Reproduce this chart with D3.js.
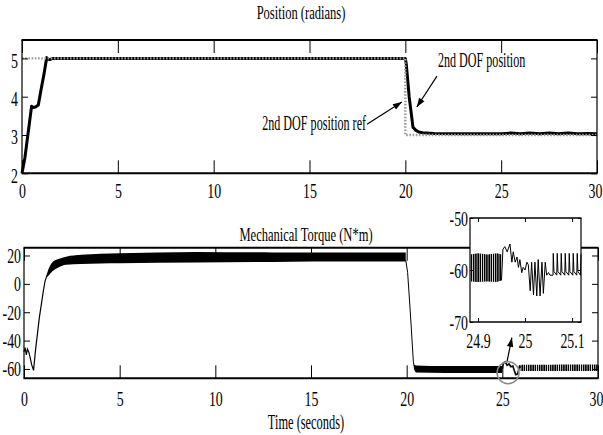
<!DOCTYPE html>
<html><head><meta charset="utf-8">
<script src="https://cdn.jsdelivr.net/npm/d3@7"></script>
<style>
body{margin:0;background:#fff}
svg{display:block}
text{font-family:"Liberation Serif","Tinos","Times New Roman","DejaVu Serif",serif;fill:#000}
</style>
</head><body>
<svg id="c" width="603" height="435"></svg>
<script>
// ---------- data ----------
const xTicks = [0, 5, 10, 15, 20, 25, 30];
const posTicks = [2, 3, 4, 5];
const torqTicks = [-60, -40, -20, 0, 20];
const insetXTicks = [24.9, 25, 25.1];
const insetYTicks = [-70, -60, -50];

// Position reference (rad)
const refT = [0, 20, 20, 30];
const refV = [5, 5, 3, 3];
// 2nd DOF position (rad)
const posT = [0, 0.15, 0.5, 0.6, 0.7, 0.85, 1.0, 1.15, 1.29, 1.35, 1.45, 1.6, 2, 20.0, 20.05, 20.2, 20.4, 20.55, 20.7, 20.9, 21.5, 23, 25, 25.5, 26, 26.5, 27, 27.5, 28, 28.5, 29, 29.5, 30];
const posV = [2.0, 2.4, 3.75, 3.72, 3.73, 3.78, 4.2, 4.6, 5.02, 4.98, 4.97, 5.0, 5.0, 5.0, 4.85, 4.0, 3.2, 3.12, 3.08, 3.06, 3.04, 3.03, 3.03, 3.05, 3.03, 3.05, 3.03, 3.05, 3.03, 3.05, 3.03, 3.04, 3.03];

// Mechanical torque (N*m): start-up transient
const tqT = [0, 0.06, 0.12, 0.18, 0.25, 0.32, 0.4, 0.5, 0.6, 0.8, 1.0, 1.1, 1.2];
const tqV = [-48, -45, -50, -46, -48, -52, -57, -61, -47, -24, -6, 2, 6];
// steady band (envelope) 1.2 .. 20 s
const band1T = [1.15, 1.3, 1.5, 1.8, 2.2, 3, 4, 5, 9, 13, 17, 19.95];
const band1Hi = [5, 11, 15.5, 17.5, 19.2, 20.5, 21.2, 21.6, 22.5, 22.2, 22.2, 22.2];
const band1Lo = [4, 6, 9, 11.5, 13.4, 14, 14.4, 14.6, 15, 15.5, 15.7, 15.7];
// drop at 20 s
const dropT = [19.95, 20.05, 20.2, 20.35, 20.42];
const dropV = [17, 8, -22, -55, -60];
// band 20.4 .. 25 s
const band2T = [20.38, 20.5, 22, 24, 25.0];
const band2Hi = [-57, -57.5, -58, -58, -58];
const band2Lo = [-60, -62.5, -62.8, -62.8, -62.8];
// event near 25 s
const evT = [25.0, 25.05, 25.15, 25.25, 25.35, 25.45, 25.55, 25.62, 25.7, 25.8, 25.9, 26.0];
const evV = [-60, -56, -55, -57.5, -56.5, -58.5, -58, -61, -64, -63.5, -58, -59];
// band 26 .. 30 s
const band3T = [25.95, 27, 28, 29, 30];
const band3Hi = [-57, -57, -56.8, -56.8, -56.8];
const band3Lo = [-61.5, -61.5, -61.5, -61.5, -61.5];

// inset (zoom 24.88 .. 25.12 s)
const inBandT = [24.883, 24.9, 24.92, 24.94, 24.95];
const inBandHi = [-57, -56.8, -57, -56.8, -57];
const inBandLo = [-62.2, -62.3, -62.2, -62.3, -62];
const inT = [24.950, 24.953, 24.957, 24.962, 24.968, 24.972, 24.975, 24.979, 24.983, 24.986, 24.989, 24.993, 24.996, 25.000, 25.004, 25.007, 25.011, 25.014, 25.018, 25.021, 25.025, 25.028, 25.032, 25.036, 25.039, 25.043, 25.046, 25.050, 25.053, 25.0595, 25.060, 25.0615, 25.0675, 25.0685, 25.070, 25.076, 25.077, 25.0785, 25.0845, 25.0855, 25.087, 25.093, 25.094, 25.0955, 25.1015, 25.1025, 25.104, 25.110, 25.111, 25.1125, 25.118, 25.119];
const inV = [-62, -56, -55.5, -56.5, -55, -58.5, -56.5, -58.5, -57.5, -59.5, -58, -60.5, -59.5, -60, -58.5, -59, -64, -58.5, -64.8, -58.5, -65, -58, -65, -58.5, -64.5, -58.5, -61, -60.5, -61, -61, -56.8, -60.3, -61, -56.8, -60.3, -61, -56.8, -60.3, -61, -56.8, -60.3, -61, -56.8, -60.3, -61, -56.8, -60.3, -61, -56.8, -60.3, -61, -57];

// ---------- drawing ----------
const svg = d3.select("#c");
const defs = svg.append("defs");
const pat = defs.append("pattern").attr("id", "vstripe").attr("patternUnits", "userSpaceOnUse").attr("width", 2.2).attr("height", 10);
pat.append("rect").attr("width", 2.2).attr("height", 10).attr("fill", "#fff");
pat.append("rect").attr("width", 1.5).attr("height", 10).attr("fill", "#000");

function txt(g, x, y, s, fs, sx, anchor) {
  return g.append("text")
    .attr("transform", `translate(${x},${y}) scale(${sx},1)`)
    .attr("font-size", fs).attr("text-anchor", anchor || "middle").text(s);
}
function frame(g, x, y, hw, vw) {
  const [x0, x1] = x.range(), [y0, y1] = y.range(); // y0 bottom, y1 top
  g.append("line").attr("x1", x0 - 0.5).attr("x2", x1 + 0.5).attr("y1", y1).attr("y2", y1).attr("stroke", "#000").attr("stroke-width", hw);
  g.append("line").attr("x1", x0 - 0.5).attr("x2", x1 + 0.5).attr("y1", y0).attr("y2", y0).attr("stroke", "#000").attr("stroke-width", hw);
  g.append("line").attr("x1", x0).attr("x2", x0).attr("y1", y1).attr("y2", y0).attr("stroke", "#000").attr("stroke-width", vw);
  g.append("line").attr("x1", x1).attr("x2", x1).attr("y1", y1).attr("y2", y0).attr("stroke", "#000").attr("stroke-width", vw);
}
function axes(g, x, y, xt, yt, o) {
  const [x0, x1] = x.range(), [y0, y1] = y.range();
  const fmt = d => String(d);
  const style = sel => { sel.select(".domain").remove(); sel.attr("font-family", null).attr("font-size", o.fs); sel.selectAll("line").attr("stroke", "#000").attr("stroke-width", 1); };
  const b = g.append("g").attr("transform", `translate(0,${y0})`).call(d3.axisBottom(x).tickValues(xt).tickSize(-o.xt).tickFormat(fmt)).call(style);
  b.selectAll("text").attr("y", null).attr("dy", null)
    .attr("transform", (d, i) => `translate(${o.edge && x(d) > 590 ? -2 : 0},${o.xOff}) scale(${o.sx},1)`);
  g.append("g").attr("transform", `translate(0,${y1})`).call(d3.axisTop(x).tickValues(xt).tickSize(-o.xt).tickFormat("")).call(style);
  const l = g.append("g").attr("transform", `translate(${x0},0)`).call(d3.axisLeft(y).tickValues(yt).tickSize(-o.yt).tickFormat(fmt)).call(style);
  l.selectAll("text").attr("x", null).attr("dy", null).attr("transform", `translate(${o.yX},${o.yOff}) scale(${o.sx},1)`);
  g.append("g").attr("transform", `translate(${x1},0)`).call(d3.axisRight(y).tickValues(yt).tickSize(-o.yt).tickFormat("")).call(style);
}
function arrow(g, x1, y1, x2, y2) {
  g.append("line").attr("x1", x1).attr("y1", y1).attr("x2", x2).attr("y2", y2).attr("stroke", "#000").attr("stroke-width", 1.2);
  const a = Math.atan2(y2 - y1, x2 - x1), L = 9, W = 3.2;
  const p = [[x2, y2], [x2 - L * Math.cos(a) + W * Math.sin(a), y2 - L * Math.sin(a) - W * Math.cos(a)], [x2 - L * Math.cos(a) - W * Math.sin(a), y2 - L * Math.sin(a) + W * Math.cos(a)]];
  g.append("path").attr("d", "M" + p.join("L") + "Z").attr("fill", "#000");
}
const zip = (a, b) => a.map((d, i) => [d, b[i]]);

// ---------- top: position ----------
const xTop = d3.scaleLinear().domain([0, 30]).range([22, 597]);
const yTop = d3.scaleLinear().domain([2, 5.48]).range([173.3, 40]);
const gT = svg.append("g");
const lineT = d3.line().x(d => xTop(d[0])).y(d => yTop(d[1]));
gT.append("path").attr("d", lineT(zip(posT, posV))).attr("fill", "none").attr("stroke", "#000").attr("stroke-width", 3).attr("stroke-linejoin", "round");
gT.append("path").attr("d", lineT(zip(refT, refV))).attr("fill", "none").attr("stroke", "#9a9a9a").attr("stroke-width", 2.4).attr("stroke-dasharray", "1.6,1.6");
frame(gT, xTop, yTop, 2, 1.2);
axes(gT, xTop, yTop, xTicks, posTicks, {fs: 21, sx: 0.66, xt: 13, yt: 6, xOff: 25, yX: -4, yOff: 9, edge: true});
txt(gT, 301, 19, "Position (radians)", 19, 0.66);
txt(gT, xTop(21.7), yTop(4.77), "2nd DOF position", 22, 0.55, "start");
txt(gT, xTop(17.95), yTop(3.13), "2nd DOF position ref", 22, 0.55, "end");
arrow(gT, xTop(21.65), yTop(4.535), xTop(20.6), yTop(3.73));
arrow(gT, xTop(18.0), yTop(3.28), xTop(19.82), yTop(3.86));

// ---------- bottom: torque ----------
const xBot = d3.scaleLinear().domain([0, 30]).range([24, 598]);
const yBot = d3.scaleLinear().domain([-66.6, 25.5]).range([378.3, 247.7]);
const gB = svg.append("g");
const lineB = d3.line().x(d => xBot(d[0])).y(d => yBot(d[1]));
const areaB = (t, hi, lo) => d3.area().curve(d3.curveMonotoneX).x(d => xBot(d)).y0((d, i) => yBot(lo[i])).y1((d, i) => yBot(hi[i]))(t);
gB.append("path").attr("d", lineB(zip(tqT, tqV))).attr("fill", "none").attr("stroke", "#000").attr("stroke-width", 1.2);
gB.append("path").attr("d", areaB(band1T, band1Hi, band1Lo)).attr("fill", "#000");
gB.append("path").attr("d", lineB(zip(dropT, dropV))).attr("fill", "none").attr("stroke", "#000").attr("stroke-width", 1);
gB.append("path").attr("d", areaB(band2T, band2Hi, band2Lo)).attr("fill", "#000");
gB.append("path").attr("d", lineB(zip(evT, evV))).attr("fill", "none").attr("stroke", "#000").attr("stroke-width", 1.6);
gB.append("path").attr("d", areaB(band3T, band3Hi, band3Lo)).attr("fill", "url(#vstripe)");
frame(gB, xBot, yBot, 2, 1.2);
axes(gB, xBot, yBot, xTicks, torqTicks, {fs: 21, sx: 0.66, xt: 13, yt: 6, xOff: 28, yX: -3, yOff: 7, edge: true});
txt(gB, 306, 241, "Mechanical Torque (N*m)", 19, 0.66);
txt(gB, 306, 429, "Time (seconds)", 20, 0.62);
// zoom circle + arrow
gB.append("circle").attr("cx", xBot(25.3)).attr("cy", yBot(-62.7)).attr("r", 11).attr("fill", "none").attr("stroke", "#8a8a8a").attr("stroke-width", 1.5);
arrow(gB, xBot(25.25), yBot(-54.5), xBot(25.5), yBot(-38));

// ---------- inset ----------
const xIn = d3.scaleLinear().domain([24.883, 25.119]).range([470, 581]);
const yIn = d3.scaleLinear().domain([-70, -50]).range([322, 218]);
const gI = svg.append("g");
gI.append("rect").attr("x", 470).attr("y", 218).attr("width", 111).attr("height", 104).attr("fill", "#fff");
const lineI = d3.line().x(d => xIn(d[0])).y(d => yIn(d[1]));
gI.append("path").attr("d", d3.area().x(d => xIn(d)).y0((d, i) => yIn(inBandLo[i])).y1((d, i) => yIn(inBandHi[i]))(inBandT)).attr("fill", "url(#vstripe)");
gI.append("path").attr("d", lineI(zip(inT, inV))).attr("fill", "none").attr("stroke", "#000").attr("stroke-width", 1);
frame(gI, xIn, yIn, 1.5, 1.2);
axes(gI, xIn, yIn, insetXTicks, insetYTicks, {fs: 21, sx: 0.66, xt: 4, yt: 3, xOff: 26, yX: -2, yOff: 7});
</script>
</body></html>
